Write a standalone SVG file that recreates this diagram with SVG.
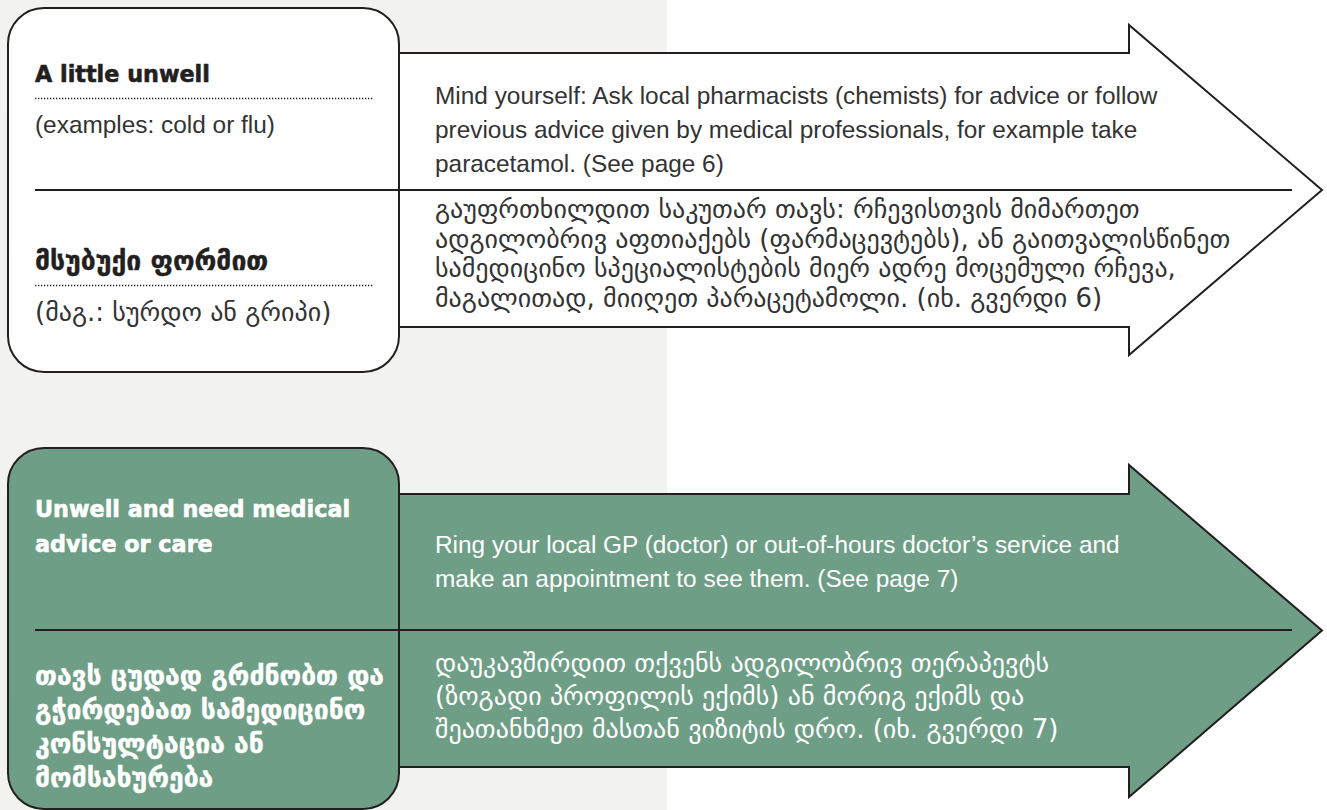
<svg xmlns="http://www.w3.org/2000/svg" width="1327" height="810" viewBox="0 0 1327 810">
<style>
.ln{stroke:#231f20;stroke-width:2;fill:none}
.shape{stroke:#231f20;stroke-width:2;stroke-linejoin:miter}
.dot{stroke:#231f20;stroke-width:1.6;stroke-dasharray:1.3 1.7;fill:none}
.hb{font-family:"DejaVu Sans",sans-serif;font-weight:bold;font-size:22.3px;stroke-width:0.6}
.hg{font-family:"DejaVu Sans",sans-serif;font-weight:bold;font-size:26.5px;stroke-width:0.4}
.en{font-family:"Liberation Sans",Arial,sans-serif;font-size:24.4px}
.ka{font-family:"DejaVu Sans",sans-serif;font-size:26px}
.dark{fill:#333}
.hb.dark,.hg.dark{fill:#231f20;stroke:#231f20}
.light{fill:#ffffff}
.hb.light,.hg.light{stroke:#ffffff}
</style>
<rect x="0" y="0" width="1327" height="810" fill="#ffffff"/>
<rect x="0" y="0" width="667" height="810" fill="#f2f3f0"/>

<g id="arrow-mild">
<polygon class="shape" fill="#ffffff" points="399,53 1129,53 1129,25 1322,190 1129,355 1129,327 399,327"/>
<g class="en dark">
<text x="435" y="104">Mind yourself: Ask local pharmacists (chemists) for advice or follow</text>
<text x="435" y="138">previous advice given by medical professionals, for example take</text>
<text x="435" y="172">paracetamol. (See page 6)</text>
</g>
<g class="ka dark">
<text x="435" y="218">გაუფრთხილდით საკუთარ თავს: რჩევისთვის მიმართეთ</text>
<text x="435" y="248">ადგილობრივ აფთიაქებს (ფარმაცევტებს), ან გაითვალისწინეთ</text>
<text x="435" y="277">სამედიცინო სპეციალისტების მიერ ადრე მოცემული რჩევა,</text>
<text x="435" y="307">მაგალითად, მიიღეთ პარაცეტამოლი. (იხ. გვერდი 6)</text>
</g>
</g>

<g id="box-mild">
<rect class="shape" x="8" y="8" width="391" height="364" rx="36" fill="#ffffff"/>
<text class="hb dark" x="35" y="82">A little unwell</text>
<line class="dot" x1="35" y1="98.5" x2="373" y2="98.5"/>
<text class="en dark" x="35" y="133">(examples: cold or flu)</text>
<text class="hg dark" x="35" y="270">მსუბუქი ფორმით</text>
<line class="dot" x1="35" y1="285.5" x2="373" y2="285.5"/>
<text class="ka dark" x="35" y="321">(მაგ.: სურდო ან გრიპი)</text>
</g>
<line id="divider-mild" class="ln" x1="35" y1="190" x2="1292" y2="190"/>

<g id="arrow-care">
<polygon class="shape" fill="#6f9e87" points="399,494 1129,494 1129,465 1322,630.5 1129,797 1129,767 399,767"/>
<g class="en light">
<text x="435" y="553">Ring your local GP (doctor) or out-of-hours doctor’s service and</text>
<text x="435" y="587">make an appointment to see them. (See page 7)</text>
</g>
<g class="ka light">
<text x="435" y="672">დაუკავშირდით თქვენს ადგილობრივ თერაპევტს</text>
<text x="435" y="705">(ზოგადი პროფილის ექიმს) ან მორიგ ექიმს და</text>
<text x="435" y="738">შეათანხმეთ მასთან ვიზიტის დრო. (იხ. გვერდი 7)</text>
</g>
</g>

<g id="box-care">
<rect class="shape" x="8" y="448" width="391" height="361" rx="36" fill="#6f9e87"/>
<g class="hb light">
<text x="35" y="517">Unwell and need medical</text>
<text x="35" y="552">advice or care</text>
</g>
<g class="hg light">
<text x="35" y="685">თავს ცუდად გრძნობთ და</text>
<text x="35" y="719">გჭირდებათ სამედიცინო</text>
<text x="35" y="753">კონსულტაცია ან</text>
<text x="35" y="787">მომსახურება</text>
</g>
</g>
<line id="divider-care" class="ln" x1="35" y1="630" x2="1292" y2="630"/>
</svg>
